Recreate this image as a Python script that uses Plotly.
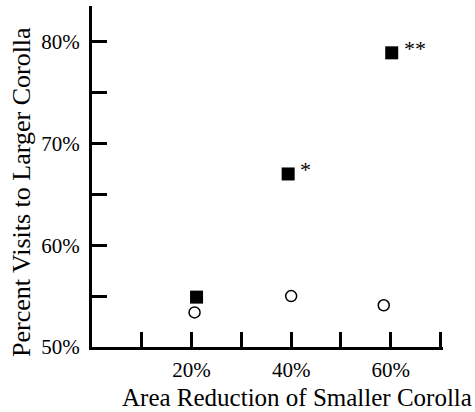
import plotly.graph_objects as go

# Data
reduction_sq = [21.0, 39.4, 60.2]        # % area reduction (filled squares)
visits_sq = [54.9, 67.0, 78.9]           # % visits to larger corolla
sig_labels = ["", "*", "**"]

reduction_circ = [20.6, 40.0, 58.6]      # open circles
visits_circ = [53.4, 55.0, 54.1]

x_tickvals = [10, 20, 30, 40, 50, 60, 70]
x_ticktext = ["", "20%", "", "40%", "", "60%", ""]
y_tickvals = [50, 55, 60, 65, 70, 75, 80]
y_ticktext = ["50%", "", "60%", "", "70%", "", "80%"]

FONT = "Liberation Serif"

fig = go.Figure()
fig.add_trace(go.Scatter(
    x=reduction_circ, y=visits_circ, mode="markers",
    marker=dict(symbol="circle-open", size=11, color="black", line=dict(width=1.5, color="black")),
    cliponaxis=False, showlegend=False, hoverinfo="skip"))
fig.add_trace(go.Scatter(
    x=reduction_sq, y=visits_sq, mode="markers",
    marker=dict(symbol="square", size=13, color="black"),
    cliponaxis=False, showlegend=False, hoverinfo="skip"))

for x, y, t in zip(reduction_sq, visits_sq, sig_labels):
    if t:
        fig.add_annotation(x=x, y=y, text=t, showarrow=False, xanchor="left", yanchor="middle",
                           xshift=10, yshift=4, font=dict(family=FONT, size=22, color="black"))

fig.add_annotation(xref="paper", yref="paper", x=0.585, y=-0.148, text="Area Reduction of Smaller Corolla",
                   showarrow=False, xanchor="center", yanchor="middle",
                   font=dict(family=FONT, size=25, color="black"))
fig.add_annotation(xref="paper", yref="paper", x=-0.199, y=0.455, text="Percent Visits to Larger Corolla",
                   showarrow=False, textangle=-90, xanchor="center", yanchor="middle",
                   font=dict(family=FONT, size=26, color="black"))

fig.update_xaxes(range=[0, 70.5], showgrid=False, zeroline=False, showline=True, linewidth=3, linecolor="black",
                 ticks="inside", ticklen=15, tickwidth=3, tickcolor="black",
                 tickvals=x_tickvals, ticktext=x_ticktext, ticklabelstandoff=2,
                 tickfont=dict(family=FONT, size=21, color="black"))
fig.update_yaxes(range=[50, 83.5], showgrid=False, zeroline=False, showline=True, linewidth=3, linecolor="black",
                 ticks="inside", ticklen=15, tickwidth=3, tickcolor="black",
                 tickvals=y_tickvals, ticktext=y_ticktext, ticklabelstandoff=5,
                 tickfont=dict(family=FONT, size=21, color="black"))

fig.update_layout(width=475, height=412, margin=dict(l=92, r=32, t=6, b=65),
                  plot_bgcolor="white", paper_bgcolor="white")
fig.write_html("out.html", config={"displayModeBar": False},
               post_script="document.body.style.margin='0';")
